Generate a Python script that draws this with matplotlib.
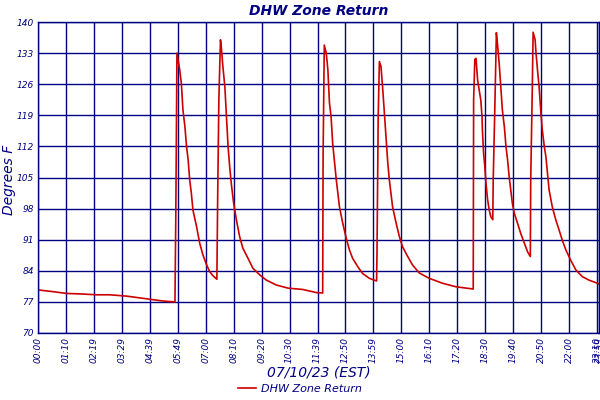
import matplotlib
matplotlib.use("Agg")
import matplotlib.pyplot as plt

# minutes since midnight
minutes = [
    0, 38, 72, 105, 147, 180, 222, 255, 280, 313, 340, 343,
    345, 348, 351, 355, 359, 363, 368, 372, 376, 380, 384, 388, 397, 405, 413, 422, 430, 438, 448,
    450, 453, 457, 459, 463, 468, 472, 476, 480, 484, 490, 497, 505, 513, 526, 538, 555, 572, 597, 626, 663, 697, 713,
    714, 717, 722, 726, 730, 734, 738, 747, 755, 763, 772, 780, 788, 801, 813, 830, 848,
    849, 852, 855, 859, 863, 868, 872, 876, 880, 884, 888, 897, 905, 913, 926, 938, 955, 980, 1013, 1047, 1072, 1090,
    1091, 1094, 1097, 1101, 1105, 1109, 1112, 1113, 1116, 1119, 1122, 1126, 1130, 1134, 1139,
    1140, 1144, 1148, 1151, 1155, 1159, 1163, 1168, 1172, 1176, 1180, 1184, 1188, 1193, 1201, 1209, 1218, 1226, 1233,
    1234, 1238, 1240, 1245, 1247, 1251, 1255, 1259, 1263, 1268, 1272, 1276, 1280, 1288, 1297, 1305, 1313, 1322, 1334,
    1347, 1363, 1380, 1401, 1405,
]
temps = [
    79.7, 79.3, 78.9, 78.8, 78.6, 78.6, 78.3, 77.9, 77.6, 77.2, 77.0, 77.0,
    95.1, 133.0, 131.4, 129.2, 126.2, 120.2, 116.4, 112.0, 109.0, 104.4, 101.5, 97.7, 94.0, 90.2, 87.6, 85.4, 83.8, 82.9, 82.1,
    100.7, 122.8, 136.0, 134.5, 130.0, 125.4, 118.7, 112.0, 107.5, 103.7, 99.2, 95.4, 91.7, 89.1, 86.8, 84.6, 83.1, 81.9, 80.8, 80.1, 79.8, 79.1, 79.0,
    109.7, 134.8, 133.0, 129.2, 121.7, 118.7, 112.7, 104.5, 98.4, 94.8, 91.3, 88.7, 86.8, 84.9, 83.4, 82.3, 81.7,
    88.0, 118.7, 131.1, 130.0, 125.4, 118.7, 113.5, 108.3, 104.4, 101.4, 98.4, 94.7, 91.7, 89.4, 87.2, 85.3, 83.5, 82.3, 81.2, 80.4, 80.1, 79.9,
    122.4, 131.6, 131.8, 126.9, 124.7, 122.4, 118.7, 115.7, 110.4, 107.5, 103.7, 100.0, 97.7, 96.2, 95.5,
    104.2, 120.2, 137.6, 134.8, 130.7, 125.4, 120.2, 116.4, 112.0, 109.0, 105.2, 102.2, 99.2, 96.9, 94.7, 92.4, 90.2, 88.3, 87.2,
    104.4, 125.4, 137.7, 136.0, 133.3, 129.2, 125.4, 120.2, 115.7, 112.0, 109.7, 106.0, 102.2, 98.4, 95.4, 93.2, 90.9, 88.7, 86.4,
    84.2, 82.7, 81.9, 81.2, 81.0,
]

tick_pos = [0, 70, 140, 210, 280, 350, 420, 490, 560, 630, 700, 770, 840, 910,
            980, 1050, 1120, 1190, 1260, 1330, 1400, 1405]
tick_labels = ["00:00", "01:10", "02:19", "03:29", "04:39", "05:49", "07:00",
               "08:10", "09:20", "10:30", "11:39", "12:50", "13:59", "15:00",
               "16:10", "17:20", "18:30", "19:40", "20:50", "22:00", "23:10", "23:59"]
y_ticks = [70, 77, 84, 91, 98, 105, 112, 119, 126, 133, 140]

navy = "#000080"
red = "#CC0000"

fig = plt.figure(figsize=(6, 4), dpi=100)
ax = fig.add_axes([38 / 600, 67 / 400, 561 / 600, 311 / 400])

ax.plot(minutes, temps, color=red, linewidth=1.2, label="DHW Zone Return")

ax.set_xlim(0, 1405)
ax.set_ylim(70, 140)
ax.set_xticks(tick_pos)
ax.set_xticklabels(tick_labels, rotation=90, fontsize=6.5, style="italic", color=navy)
ax.set_yticks(y_ticks)
ax.set_yticklabels([str(v) for v in y_ticks], fontsize=6.5, style="italic", color=navy)
ax.tick_params(length=0, pad=3)
ax.grid(True, color=navy, linewidth=1.0)
ax.set_axisbelow(True)
for s in ax.spines.values():
    s.set_color(navy)
    s.set_linewidth(1.0)

ax.set_title("DHW Zone Return", fontsize=10, fontweight="bold", style="italic",
             color=navy, pad=5)
fig.text(9 / 600, 0.5 + 20 / 400, "Degrees F", rotation=90, fontsize=10, style="italic",
         color=navy, ha="center", va="center")
ax.set_xlabel("07/10/23 (EST)", fontsize=10, style="italic", color=navy, labelpad=2)

leg = fig.legend(loc="lower center", bbox_to_anchor=(0.5, -0.01), frameon=False,
                 fontsize=8, handlelength=1.6, handletextpad=0.4)
for t in leg.get_texts():
    t.set_color(navy)
    t.set_style("italic")

fig.savefig("out.png", dpi=100)
